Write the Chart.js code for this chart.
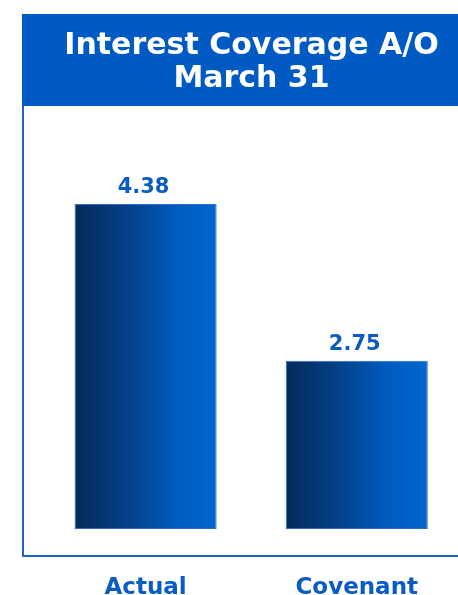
<!DOCTYPE html>
<html>
<head>
<meta charset="utf-8">
<script src="https://cdn.jsdelivr.net/npm/chart.js@4.4.1/dist/chart.umd.min.js"></script>
<style>
  html, body { margin: 0; padding: 0; background: #fff; overflow: hidden; }
  canvas { display: block; }
</style>
</head>
<body>
<canvas id="chart" width="463" height="595"></canvas>
<script>
// chart data
const titleLines = ['Interest Coverage A/O', 'March 31'];
const categories = ['Actual', 'Covenant'];
const ratios = [4.38, 2.75];
const axisMin = 1;
const axisMax = 5.4;

const BLUE = '#0a5bc4';
const BANNER = '#005ac3';
const BAR_PCT = 0.673;
const FONT = '"DejaVu Sans", Verdana, sans-serif';

// horizontal navy-to-blue fill, one gradient per bar
function barGradient(context) {
  const chart = context.chart;
  if (!chart.chartArea || context.dataIndex === undefined) return '#004a9e';
  const xs = chart.scales.x;
  const half = xs.width / categories.length * BAR_PCT / 2;
  const cx = xs.getPixelForValue(context.dataIndex);
  const g = chart.ctx.createLinearGradient(cx - half, 0, cx + half, 0);
  g.addColorStop(0, '#032a5a');
  g.addColorStop(0.35, '#053f86');
  g.addColorStop(0.72, '#005bc0');
  g.addColorStop(1, '#0067cf');
  return g;
}

// box outline on the left and bottom, plus the title banner behind the title text
const framePlugin = {
  id: 'frame',
  beforeDraw(chart) {
    const ctx = chart.ctx;
    const tb = chart.titleBlock;
    ctx.save();
    ctx.strokeStyle = '#1f62c4';
    ctx.lineWidth = 2;
    ctx.beginPath();
    ctx.moveTo(23, 83);
    ctx.lineTo(23, 556);
    ctx.lineTo(chart.width, 556);
    ctx.stroke();
    ctx.fillStyle = BANNER;
    ctx.fillRect(22, tb.top, chart.width - 22, tb.height);
    ctx.restore();
  }
};

// value printed above each bar
const valueLabels = {
  id: 'valueLabels',
  afterDatasetsDraw(chart) {
    const ctx = chart.ctx;
    const meta = chart.getDatasetMeta(0);
    ctx.save();
    ctx.fillStyle = BLUE;
    ctx.font = 'bold 21px ' + FONT;
    ctx.textAlign = 'center';
    ctx.textBaseline = 'alphabetic';
    meta.data.forEach((bar, i) => {
      ctx.fillText(ratios[i].toFixed(2), bar.x - 2, bar.y - 11);
    });
    ctx.restore();
  }
};

new Chart(document.getElementById('chart'), {
  type: 'bar',
  data: {
    labels: categories,
    datasets: [{
      data: ratios,
      base: axisMin,
      backgroundColor: barGradient,
      borderColor: '#2a6fd0',
      borderWidth: 1,
      borderSkipped: false,
      barPercentage: BAR_PCT,
      categoryPercentage: 1
    }]
  },
  options: {
    responsive: false,
    animation: false,
    layout: { padding: { top: 14, left: 40, right: 0, bottom: 0 } },
    plugins: {
      legend: { display: false },
      tooltip: { enabled: false },
      title: {
        display: true,
        text: titleLines,
        color: '#fff',
        font: { family: FONT, size: 30, weight: 'bold', lineHeight: 1.1 },
        padding: { top: 16, bottom: 10 }
      }
    },
    scales: {
      x: {
        grid: { display: false, drawTicks: false },
        border: { display: false },
        afterFit(scale) { scale.height = 66; },
        ticks: {
          color: BLUE,
          padding: 45,
          font: { family: FONT, size: 23, weight: 'bold' }
        }
      },
      y: {
        display: false,
        min: axisMin,
        max: axisMax
      }
    }
  },
  plugins: [framePlugin, valueLabels]
});
</script>
</body>
</html>
